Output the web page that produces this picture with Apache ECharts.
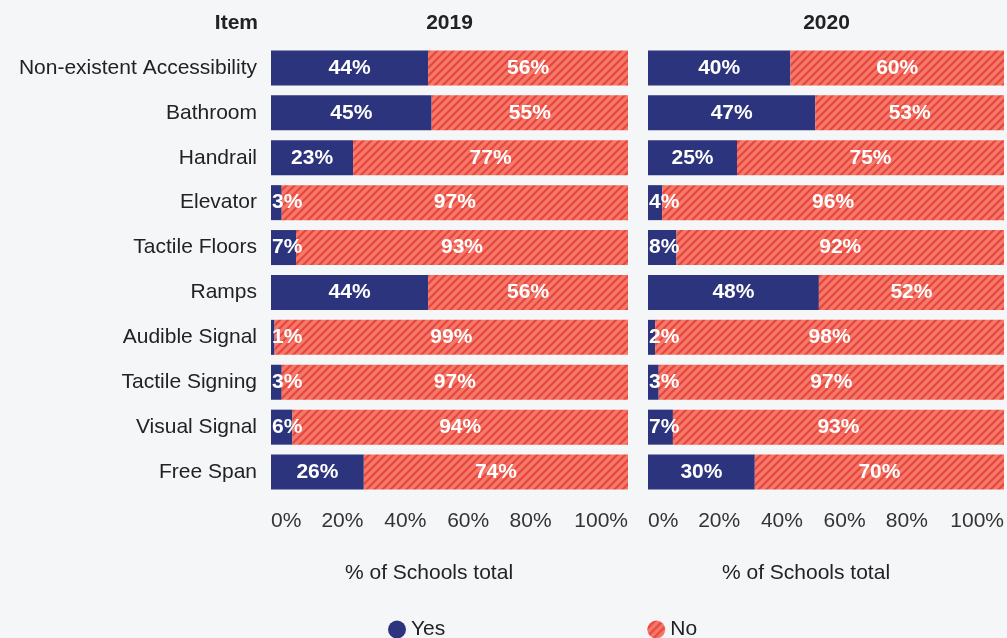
<!DOCTYPE html>
<html><head><meta charset="utf-8">
<script src="https://cdn.jsdelivr.net/npm/echarts@6/dist/echarts.min.js"></script>
<style>html,body{margin:0;padding:0;background:#f5f6f8;}#c{width:1007px;height:638px;}</style>
</head><body><div id="c"></div>
<script>
const categories = ['Non-existent Accessibility','Bathroom','Handrail','Elevator','Tactile Floors','Ramps','Audible Signal','Tactile Signing','Visual Signal','Free Span'];
const yes2019 = [44,45,23,3,7,44,1,3,6,26];
const no2019  = [56,55,77,97,93,56,99,97,94,74];
const yes2020 = [40,47,25,4,8,48,2,3,7,30];
const no2020  = [60,53,75,96,92,52,98,97,93,70];
const xTicks = [0,20,40,60,80,100];
const years = ['2019','2020'];

const FONT = '"Liberation Sans", Arial, sans-serif';
const FS = 21;
const NAVY = '#2b347c';
const RED = '#f4796b';
const STRIPE = '#e8463c';

function makePattern(){
  const c = document.createElement('canvas');
  const s = 8; c.width = s; c.height = s;
  const g = c.getContext('2d');
  g.fillStyle = RED; g.fillRect(0,0,s,s);
  g.strokeStyle = STRIPE; g.lineWidth = 2.2;
  g.beginPath();
  g.moveTo(-2, s+2); g.lineTo(s+2, -2);
  g.moveTo(-2, 2); g.lineTo(2, -2);
  g.moveTo(s-2, s+2); g.lineTo(s+2, s-2);
  g.stroke();
  return c;
}
const hatch = {image: makePattern(), repeat:'repeat'};

// tick labels are spread with equal gaps in the reference; shift middle ones left
const tickRich = {
  t0:{fontFamily:FONT,fontSize:FS,color:'#333'},
  t40:{fontFamily:FONT,fontSize:FS,color:'#333',padding:[0,17,0,0]},
  t60:{fontFamily:FONT,fontSize:FS,color:'#333',padding:[0,34,0,0]},
  t80:{fontFamily:FONT,fontSize:FS,color:'#333',padding:[0,52,0,0]}
};
function tickFmt(v){
  const key = (v===40||v===60||v===80) ? 't'+v : 't0';
  return '{'+key+'|'+v+'%}';
}

const chart = echarts.init(document.getElementById('c'));
const grids = [{left:271, right:379, top:45.5, height:449},{left:648, right:2, top:45.5, height:449}];
function xAxis(i){return {gridIndex:i,type:'value',min:xTicks[0],max:xTicks[xTicks.length-1],interval:20,
  axisLine:{show:false},axisTick:{show:false},splitLine:{show:false},
  axisLabel:{formatter:tickFmt,rich:tickRich,fontFamily:FONT,fontSize:FS,color:'#333',margin:16,
    alignMinLabel:'left',alignMaxLabel:'right',showMinLabel:true,showMaxLabel:true,hideOverlap:false}};}
function yAxis(i){return {gridIndex:i,type:'category',data:categories,inverse:true,
  axisLine:{show:false},axisTick:{show:false},
  axisLabel:{show:i===0,fontFamily:FONT,fontSize:FS,color:'#222',margin:14}};}
function barLabel(){return {show:true,formatter:'{c}%',color:'#fff',fontWeight:'bold',fontSize:FS,fontFamily:FONT,
  position:'inside'};}
function mkYes(data,i){return {name:'Yes',type:'bar',stack:'s'+i,xAxisIndex:i,yAxisIndex:i,barWidth:35,
  itemStyle:{color:NAVY},
  data:data.map(v=>({value:v,label:v<12?{position:'insideLeft',distance:1}:{}})),
  label:barLabel(),z:2};}
function mkNo(data,i){return {name:'No',type:'bar',stack:'s'+i,xAxisIndex:i,yAxisIndex:i,barWidth:35,
  itemStyle:{color:hatch},data:data,label:barLabel()};}

const option = {
  backgroundColor:'#f5f6f8',
  animation:false,
  aria:{enabled:false},
  grid:grids,
  xAxis:[xAxis(0),xAxis(1)],
  yAxis:[yAxis(0),yAxis(1)],
  legend:{data:['Yes','No'],left:383,top:614,icon:'circle',itemWidth:18,itemHeight:18,itemGap:202,
    textStyle:{fontFamily:FONT,fontSize:FS,color:'#222'}},
  graphic:[
    {type:'text',x:258,y:13,style:{text:'Item',font:'bold '+FS+'px '+FONT,fill:'#222',align:'right'}},
    {type:'text',x:449.5,y:13,style:{text:years[0],font:'bold '+FS+'px '+FONT,fill:'#222',align:'center'}},
    {type:'text',x:826.5,y:13,style:{text:years[1],font:'bold '+FS+'px '+FONT,fill:'#222',align:'center'}},
    {type:'text',x:429,y:563,style:{text:'% of Schools total',font:FS+'px '+FONT,fill:'#222',align:'center'}},
    {type:'text',x:806,y:563,style:{text:'% of Schools total',font:FS+'px '+FONT,fill:'#222',align:'center'}}
  ],
  series:[mkYes(yes2019,0),mkNo(no2019,0),mkYes(yes2020,1),mkNo(no2020,1)]
};
chart.setOption(option);
</script></body></html>
